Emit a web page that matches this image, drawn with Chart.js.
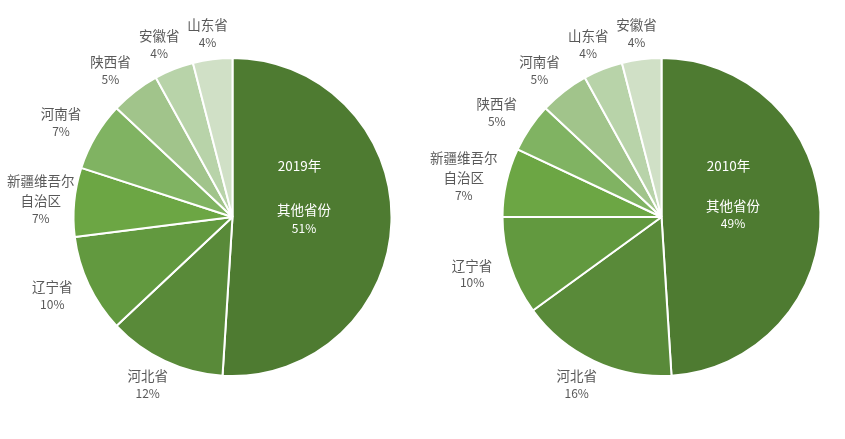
<!DOCTYPE html>
<html>
<head>
<meta charset="utf-8">
<script src="https://cdn.jsdelivr.net/npm/chart.js@4.4.0/dist/chart.umd.min.js"></script>
<style>
  html, body { margin: 0; padding: 0; background: #fff; }
  .wrap { position: absolute; top: 0; height: 439px; }
  #w1 { left: 0; width: 423px; }
  #w2 { left: 423px; width: 422px; }
</style>
</head>
<body>
<div class="wrap" id="w1"><canvas id="pie2019"></canvas></div>
<div class="wrap" id="w2"><canvas id="pie2010"></canvas></div>
<script>
const labels2019 = ['其他省份', '河北省', '辽宁省', '新疆维吾尔\n自治区', '河南省', '陕西省', '安徽省', '山东省'];
const values2019 = [51, 12, 10, 7, 7, 5, 4, 4];
const labels2010 = ['其他省份', '河北省', '辽宁省', '新疆维吾尔\n自治区', '陕西省', '河南省', '山东省', '安徽省'];
const values2010 = [49, 16, 10, 7, 5, 5, 4, 4];
const greens = ['#4e7b31', '#598a39', '#62993f', '#6ca644', '#80b362', '#a1c48b', '#b8d3a9', '#d0e0c6'];

const FONT = '"Noto Sans CJK SC", "Noto Sans", sans-serif';
const NAME_FONT = '13.5px ' + FONT;
const PCT_FONT = '12px ' + FONT;

// draws outside labels + the big inside label + year
const pieLabels = {
  id: 'pieLabels',
  afterDatasetsDraw(chart, args, opts) {
    const ctx = chart.ctx;
    const meta = chart.getDatasetMeta(0);
    const vals = chart.data.datasets[0].data;
    ctx.save();
    ctx.textAlign = 'center';
    ctx.textBaseline = 'middle';
    meta.data.forEach((arc, i) => {
      const mid = (arc.startAngle + arc.endAngle) / 2;
      const r = arc.outerRadius;
      const lines = chart.data.labels[i].split('\n');
      const pct = vals[i] + '%';
      if (i === 0) {
        const x = arc.x + Math.cos(mid) * r * 0.45;
        const y = arc.y + Math.sin(mid) * r * 0.45;
        ctx.fillStyle = '#ffffff';
        ctx.font = NAME_FONT;
        ctx.fillText(lines[0], x, y - 9);
        ctx.font = PCT_FONT;
        ctx.fillText(pct, x, y + 9);
        ctx.font = NAME_FONT;
        ctx.fillText(opts.year, arc.x + 67, arc.y - 51);
        return;
      }
      // label block: name lines 20px apart, pct 17.5px under
      ctx.font = NAME_FONT;
      const w = Math.max(...lines.map(t => ctx.measureText(t).width));
      const offs = lines.map((t, k) => k * 20);
      offs.push((lines.length - 1) * 20 + 17.5);
      const h = offs[offs.length - 1];
      const d = r + 26;
      let x = arc.x + Math.cos(mid) * d + Math.cos(mid) * w / 2 * 0.7;
      const y = arc.y + Math.sin(mid) * d;
      x = Math.max(x, 7 + w / 2);
      ctx.fillStyle = '#595959';
      lines.concat([pct]).forEach((t, k) => {
        ctx.font = k === lines.length ? PCT_FONT : NAME_FONT;
        ctx.fillText(t, x, y - h / 2 + offs[k]);
      });
    });
    ctx.restore();
  }
};

function makePie(id, labels, values, year, pad) {
  new Chart(document.getElementById(id), {
    type: 'pie',
    data: {
      labels: labels,
      datasets: [{
        data: values,
        backgroundColor: greens,
        borderColor: '#ffffff',
        borderWidth: 2
      }]
    },
    options: {
      responsive: true,
      maintainAspectRatio: false,
      animation: false,
      layout: { padding: pad },
      plugins: {
        legend: { display: false },
        tooltip: { enabled: false },
        pieLabels: { year: year }
      }
    },
    plugins: [pieLabels]
  });
}

makePie('pie2019', labels2019, values2019, '2019年', { left: 72.5, right: 30.5, top: 57, bottom: 62 });
makePie('pie2010', labels2010, values2010, '2010年', { left: 78.5, right: 23.5, top: 57, bottom: 62 });
</script>
</body>
</html>
